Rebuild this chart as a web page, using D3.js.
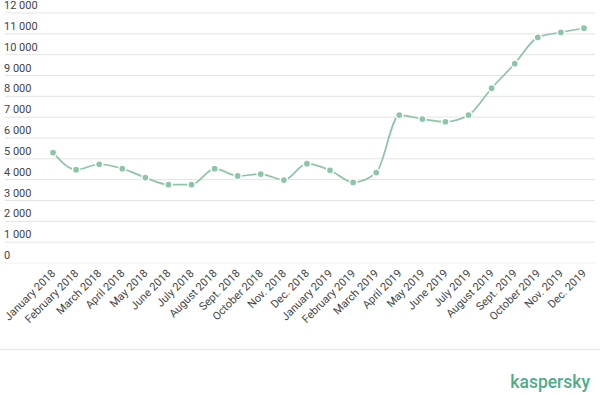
<!DOCTYPE html>
<html>
<head>
<meta charset="utf-8">
<script src="https://cdn.jsdelivr.net/npm/d3@7"></script>
<style>
  body { margin: 0; background: #fff; }
  text { font-family: Roboto, "Noto Sans", sans-serif; }
</style>
</head>
<body>
<div id="chart"></div>
<script>
// months shown on the x axis
const months = [
  "January 2018", "February 2018", "March 2018", "April 2018", "May 2018", "June 2018",
  "July 2018", "August 2018", "Sept. 2018", "October 2018", "Nov. 2018", "Dec. 2018",
  "January 2019", "February 2019", "March 2019", "April 2019", "May 2019", "June 2019",
  "July 2019", "August 2019", "Sept. 2019", "October 2019", "Nov. 2019", "Dec. 2019"
];
// values
const counts = [
  5300, 4480, 4740, 4530, 4100, 3760, 3760, 4530, 4180, 4270, 3980, 4770,
  4450, 3870, 4340, 7100, 6910, 6780, 7100, 8390, 9570, 10830, 11070, 11270
];
const yTicks = [0, 1000, 2000, 3000, 4000, 5000, 6000, 7000, 8000, 9000, 10000, 11000, 12000];

const width = 600, height = 394;
const margin = { top: 13, right: 5, bottom: 131, left: 41.5 };
const green = "#8cc5a7";

const svg = d3.select("#chart")
  .append("svg")
  .attr("width", width)
  .attr("height", height);

const x = d3.scaleBand()
  .domain(months)
  .range([margin.left, width - 4.5]);

const y = d3.scaleLinear()
  .domain([0, 12000])
  .range([height - margin.bottom, margin.top]);

const fmt = d => d3.format(",")(d).replace(/,/g, " ");

// gridlines + labels sitting above them
const grid = svg.append("g");
grid.selectAll("line")
  .data(yTicks)
  .join("line")
  .attr("x1", 5)
  .attr("x2", 595)
  .attr("y1", d => y(d))
  .attr("y2", d => y(d))
  .attr("stroke", d => d === 0 ? "#f2f2f2" : "#e3e3e3")
  .attr("stroke-width", 1);

grid.selectAll("text")
  .data(yTicks)
  .join("text")
  .attr("x", 4)
  .attr("y", d => y(d) - 4)
  .attr("font-size", 11)
  .attr("fill", "#444")
  .text(fmt);

// x labels, rotated
const xAxis = svg.append("g")
  .attr("transform", `translate(0,${height - margin.bottom})`)
  .call(d3.axisBottom(x).tickSize(0).tickPadding(0));
xAxis.select(".domain").remove();
xAxis.selectAll("text")
  .attr("font-size", 11)
  .attr("font-family", "Roboto, sans-serif")
  .attr("fill", "#444")
  .attr("text-anchor", "end")
  .attr("dy", null)
  .attr("y", 0)
  .attr("transform", "translate(3,11) rotate(-45)");

// line
const line = d3.line()
  .x((d, i) => x(months[i]) + x.bandwidth() / 2)
  .y(d => y(d))
  .curve(d3.curveMonotoneX);

svg.append("path")
  .datum(counts)
  .attr("d", line)
  .attr("fill", "none")
  .attr("stroke", green)
  .attr("stroke-width", 1.7);

svg.selectAll(".dot")
  .data(counts)
  .join("circle")
  .attr("class", "dot")
  .attr("cx", (d, i) => x(months[i]) + x.bandwidth() / 2)
  .attr("cy", d => y(d))
  .attr("r", 3.6)
  .attr("fill", green)
  .attr("stroke", "#fff")
  .attr("stroke-width", 1.5);

// bottom separator
svg.append("line")
  .attr("x1", 0)
  .attr("x2", width)
  .attr("y1", 349.5)
  .attr("y2", 349.5)
  .attr("stroke", "#ececec")
  .attr("stroke-width", 1.5);

// logo text
svg.append("text")
  .attr("x", 590)
  .attr("y", 388)
  .attr("text-anchor", "end")
  .attr("font-size", 17.5)
  .attr("font-weight", 500)
  .attr("fill", "#4dac8a")
  .text("kaspersky");
</script>
</body>
</html>
